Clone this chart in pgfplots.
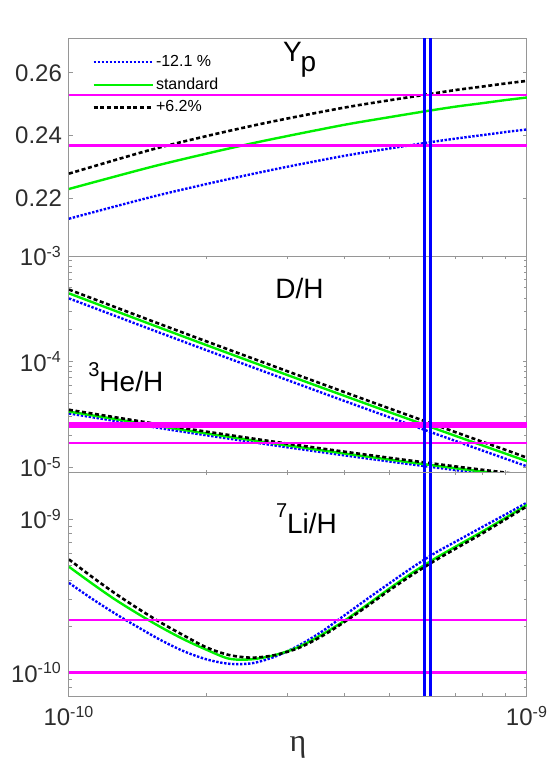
\documentclass[border=0pt]{standalone}
\usepackage{pgfplots}
\pgfplotsset{compat=1.18}
\usepackage{pgfplotstable}
\usepackage{fontspec}
\setmainfont{Liberation Sans}
\newfontfamily\serifgreek{Liberation Serif}
\definecolor{framegray}{RGB}{150,150,150}
\definecolor{labgray}{RGB}{45,45,45}
\definecolor{mag}{RGB}{255,0,255}
\definecolor{bblue}{RGB}{0,0,255}
\definecolor{bgreen}{RGB}{0,240,0}

\pgfplotstableread{
eta std hi lo
1e-10 0.2229 0.2278 0.2134
1.5e-10 0.2298 0.2353 0.2202
2e-10 0.2342 0.2398 0.2245
2.5e-10 0.2374 0.2430 0.2276
3e-10 0.2398 0.2454 0.2300
4e-10 0.2434 0.2489 0.2335
5e-10 0.2458 0.2512 0.2358
6e-10 0.2477 0.2530 0.2376
7e-10 0.2492 0.2545 0.2390
8e-10 0.2503 0.2556 0.2401
9e-10 0.2513 0.2566 0.2411
1e-9 0.2521 0.2574 0.2419
}\Yp

\pgfplotstableread{
eta std hi lo
1e-10 4.43e-4 4.81e-4 3.97e-4
1.5e-10 2.278e-4 2.47e-4 2.04e-4
2e-10 1.429e-4 1.55e-4 1.279e-4
3e-10 7.46e-5 8.10e-5 6.68e-5
4e-10 4.73e-5 5.13e-5 4.23e-5
5e-10 3.33e-5 3.61e-5 2.98e-5
6e-10 2.506e-5 2.72e-5 2.243e-5
7e-10 1.973e-5 2.14e-5 1.766e-5
8e-10 1.606e-5 1.74e-5 1.437e-5
9e-10 1.340e-5 1.454e-5 1.199e-5
1e-9 1.14e-5 1.23e-5 1.02e-5
}\DH

\pgfplotstableread{
eta std hi lo
1e-10 3.365e-5 3.50e-5 3.23e-5
1.5e-10 2.532e-5 2.633e-5 2.431e-5
2e-10 2.087e-5 2.170e-5 2.004e-5
3e-10 1.608e-5 1.672e-5 1.544e-5
4e-10 1.348e-5 1.402e-5 1.294e-5
5e-10 1.182e-5 1.229e-5 1.135e-5
6e-10 1.065e-5 1.108e-5 1.022e-5
7e-10 9.77e-6 1.016e-5 9.38e-6
8e-10 9.09e-6 9.45e-6 8.73e-6
9e-10 8.53e-6 8.87e-6 8.19e-6
1e-9 7.93e-6 8.25e-6 7.61e-6
}\HeH

\pgfplotstableread{
eta std hi lo
1e-10 4.89e-10 5.46e-10 3.84e-10
1.122e-10 3.81e-10 4.21e-10 3.03e-10
1.259e-10 3.00e-10 3.29e-10 2.43e-10
1.413e-10 2.42e-10 2.62e-10 1.98e-10
1.585e-10 1.98e-10 2.12e-10 1.63e-10
1.778e-10 1.65e-10 1.75e-10 1.38e-10
1.995e-10 1.41e-10 1.46e-10 1.22e-10
2.239e-10 1.23e-10 1.30e-10 1.14e-10
2.512e-10 1.22e-10 1.25e-10 1.15e-10
2.818e-10 1.30e-10 1.30e-10 1.27e-10
3.162e-10 1.46e-10 1.44e-10 1.49e-10
3.548e-10 1.75e-10 1.71e-10 1.83e-10
3.981e-10 2.16e-10 2.12e-10 2.34e-10
4.467e-10 2.75e-10 2.69e-10 3.00e-10
5.012e-10 3.53e-10 3.44e-10 3.82e-10
5.623e-10 4.47e-10 4.34e-10 4.84e-10
6.310e-10 5.55e-10 5.38e-10 6.03e-10
7.079e-10 6.76e-10 6.56e-10 7.28e-10
7.943e-10 8.20e-10 7.98e-10 8.79e-10
8.913e-10 1.005e-9 9.82e-10 1.059e-9
1e-9 1.236e-9 1.211e-9 1.279e-9
}\LiH

\pgfplotsset{
  every axis/.append style={
    scale only axis, width=229pt,
    xmin=1e-10, xmax=1e-9,
    axis line style={framegray, line width=0.5pt},
    every tick/.style={framegray, line width=0.5pt},
    major tick length=2pt, minor tick length=1.3pt,
    tick align=inside,
    ticklabel style={font=\fontsize{12}{14}\selectfont, text=labgray},
    xtick={1e-10,1e-9}, xticklabels={},
    minor xtick={2e-10,3e-10,4e-10,5e-10,6e-10,7e-10,8e-10,9e-10},
    clip=true,
  },
}
\tikzset{
  sdot/.style={bblue, line width=1.2pt, dash pattern=on 1.2pt off 0.8pt, smooth},
  stdl/.style={bgreen, line width=1.2pt, smooth},
  bdot/.style={black, line width=1.3pt, dash pattern=on 2pt off 1.3pt, smooth},
  magl/.style={mag, line width=1.3pt},
  vline/.style={bblue, line width=1.2pt},
}

\begin{document}
\begin{tikzpicture}
\useasboundingbox (0pt,0pt) rectangle (279pt,-380pt);

% ---------- top panel: Yp ----------
\begin{axis}[xmode=log, at={(34.5pt,-19.15pt)}, anchor=north west, height=108.85pt,
  ymin=0.2015, ymax=0.271,
  ytick={0.22,0.24,0.26}, yticklabels={0.22,0.24,0.26},
  xtick=\empty, minor xtick={},
  legend cell align=left,
  legend style={draw=none, fill=none, at={(rel axis cs:0.046,0.943)}, anchor=north west,
    font=\fontsize{8}{9}\selectfont, row sep=2.2pt, inner sep=1pt,
    nodes={inner sep=1pt}},
  legend image code/.code={\draw[#1] (0pt,0pt) -- (29.5pt,0pt);},
]
\addplot[sdot] table[x=eta, y=lo] {\Yp}; \addlegendentry{-12.1 \%}
\addplot[stdl] table[x=eta, y=std] {\Yp}; \addlegendentry{standard}
\addplot[bdot] table[x=eta, y=hi] {\Yp}; \addlegendentry{+6.2\%}
\addplot[magl, forget plot] coordinates {(1e-10,0.2529) (1e-9,0.2529)};
\addplot[magl, forget plot] coordinates {(1e-10,0.2368) (1e-9,0.2368)};
\addplot[vline, forget plot] coordinates {(5.97e-10,0.2015) (5.97e-10,0.271)};
\addplot[vline, forget plot] coordinates {(6.16e-10,0.2015) (6.16e-10,0.271)};
\node[anchor=base west, inner sep=0pt, font=\fontsize{14}{16}\selectfont] at (rel axis cs:0.4666,0.8925) {Y\kern-0.5pt\raisebox{-5pt}{p}};
\node[anchor=base east, inner sep=0pt, font=\fontsize{10}{12}\selectfont, text=labgray, yshift=8.3pt] at (rel axis cs:0.991,1) {Planck 2015};
\end{axis}

% ---------- middle panel: D/H, 3He/H ----------
\begin{axis}[xmode=log, at={(34.5pt,-128pt)}, anchor=north west, height=108.25pt,
  ymode=log, ymin=8.91e-6, ymax=1e-3,
  ytick={1e-5,1e-4,1e-3},
  yticklabels={10\textsuperscript{-5},10\textsuperscript{-4},10\textsuperscript{-3}},
  minor ytick={9e-6,2e-5,3e-5,4e-5,5e-5,6e-5,7e-5,8e-5,9e-5,2e-4,3e-4,4e-4,5e-4,6e-4,7e-4,8e-4,9e-4},
]
\addplot[sdot] table[x=eta, y=lo] {\DH};
\addplot[stdl] table[x=eta, y=std] {\DH};
\addplot[bdot] table[x=eta, y=hi] {\DH};
\addplot[sdot] table[x=eta, y=lo] {\HeH};
\addplot[stdl] table[x=eta, y=std] {\HeH};
\addplot[bdot] table[x=eta, y=hi] {\HeH};
\addplot[mag, line width=2.9pt] coordinates {(1e-10,2.51e-5) (1e-9,2.51e-5)};
\addplot[magl] coordinates {(1e-10,1.70e-5) (1e-9,1.70e-5)};
\addplot[vline] coordinates {(5.97e-10,8.91e-6) (5.97e-10,1e-3)};
\addplot[vline] coordinates {(6.16e-10,8.91e-6) (6.16e-10,1e-3)};
\node[anchor=base west, inner sep=0pt, font=\fontsize{14}{16}\selectfont] at (rel axis cs:0.4498,0.806) {D/H};
\node[anchor=base west, inner sep=0pt, font=\fontsize{14}{16}\selectfont] at (rel axis cs:0.0415,0.373) {\raisebox{7.7pt}{\fontsize{10}{12}\selectfont 3}He/H};
\end{axis}

% ---------- bottom panel: 7Li/H ----------
\begin{axis}[xmode=log, at={(34.5pt,-236.25pt)}, anchor=north west, height=111.75pt,
  ymode=log, ymin=7.03e-11, ymax=2.01e-9,
  ytick={1e-10,1e-9},
  yticklabels={10\textsuperscript{-10},10\textsuperscript{-9}},
  minor ytick={8e-11,9e-11,2e-10,3e-10,4e-10,5e-10,6e-10,7e-10,8e-10,9e-10,2e-9},
  xticklabels={10\textsuperscript{-10},10\textsuperscript{-9}},
  xticklabel style={yshift=-1.5pt},
  xlabel={\serifgreek η},
  xlabel style={at={(rel axis cs:0.5,0)}, anchor=base, yshift=-27.5pt,
    font=\fontsize{16}{18}\selectfont, text=labgray},
]
\addplot[sdot] table[x=eta, y=lo] {\LiH};
\addplot[stdl] table[x=eta, y=std] {\LiH};
\addplot[bdot] table[x=eta, y=hi] {\LiH};
\addplot[magl] coordinates {(1e-10,2.20e-10) (1e-9,2.20e-10)};
\addplot[magl] coordinates {(1e-10,1.0e-10) (1e-9,1.0e-10)};
\addplot[vline] coordinates {(5.97e-10,7.03e-11) (5.97e-10,2.01e-9)};
\addplot[vline] coordinates {(6.16e-10,7.03e-11) (6.16e-10,2.01e-9)};
\node[anchor=base west, inner sep=0pt, font=\fontsize{14}{16}\selectfont] at (rel axis cs:0.4513,0.728) {\raisebox{7.7pt}{\fontsize{10}{12}\selectfont 7}Li/H};
\end{axis}
\end{tikzpicture}
\end{document}
